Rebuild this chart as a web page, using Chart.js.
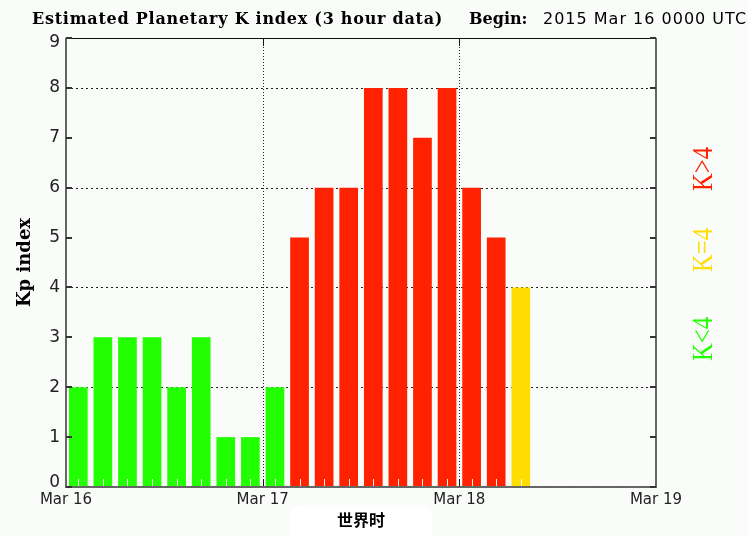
<!DOCTYPE html>
<html><head><meta charset="utf-8">
<script src="https://cdn.jsdelivr.net/npm/chart.js@4/dist/chart.umd.min.js"></script>
<style>html,body{margin:0;padding:0;background:#fafcfa;} #wrap{width:748px;height:536px;}</style>
</head><body><div id="wrap"><canvas id="c" width="748" height="536"></canvas></div>
<script>
// ---- data ----
const kpValues = [2, 3, 3, 3, 2, 3, 1, 1, 2, 5, 6, 6, 8, 8, 7, 8, 6, 5, 4];
const dayLabels = ['Mar 16', 'Mar 17', 'Mar 18', 'Mar 19'];
const slotsPerDay = 8;
const totalSlots = 24;
const yTickValues = [0, 1, 2, 3, 4, 5, 6, 7, 8, 9];
const gridValues = [2, 4, 6, 8];
const titleText = 'Estimated Planetary K index (3 hour data)';
const beginLabel = 'Begin:';
const beginText = '2015 Mar 16 0000 UTC';
const yTitle = 'Kp index';
const xTitle = '世界时';
const legendLabels = ['K>4', 'K=4', 'K<4'];
const legendColors = ['#ff2200', '#ffdd00', '#22ff00'];

function colorFor(v) { return v > 4 ? legendColors[0] : (v === 4 ? legendColors[1] : legendColors[2]); }
const points = kpValues.map((v, i) => ({x: i + 0.5, y: v}));

const decor = {
  id: 'decor',
  beforeDraw(chart) {
    const ctx = chart.ctx, a = chart.chartArea;
    ctx.save();
    ctx.fillStyle = '#fafcfa';
    ctx.fillRect(0, 0, chart.width, chart.height);
    const cx = (a.left + a.right) / 2;
    ctx.fillStyle = '#ffffff';
    ctx.beginPath();
    ctx.roundRect(cx - 71, 505, 142, 40, 10);
    ctx.fill();
    ctx.restore();
  },
  beforeDatasetsDraw(chart) {
    const ctx = chart.ctx, a = chart.chartArea;
    const xs = chart.scales.x, ys = chart.scales.y;
    ctx.save();
    ctx.strokeStyle = '#222';
    ctx.lineWidth = 1;
    ctx.setLineDash([2, 3]);
    gridValues.forEach(v => {
      const y = Math.round(ys.getPixelForValue(v)) + 0.5;
      ctx.beginPath(); ctx.moveTo(a.left, y); ctx.lineTo(a.right, y); ctx.stroke();
    });
    ctx.setLineDash([1, 2]);
    for (let d = 1; d < dayLabels.length - 1; d++) {
      const x = Math.round(xs.getPixelForValue(d * slotsPerDay)) + 0.5;
      ctx.beginPath(); ctx.moveTo(x, a.top); ctx.lineTo(x, a.bottom); ctx.stroke();
    }
    ctx.restore();
  },
  afterDatasetsDraw(chart) {
    const ctx = chart.ctx, a = chart.chartArea;
    const xs = chart.scales.x, ys = chart.scales.y;
    ctx.save();
    ctx.strokeStyle = 'rgba(255,255,255,0.9)';
    ctx.lineWidth = 1;
    for (let i = 0; i < totalSlots; i++) {
      const x = Math.round(xs.getPixelForValue(i + 0.5)) + 0.5;
      ctx.beginPath(); ctx.moveTo(x, a.bottom - 8); ctx.lineTo(x, a.bottom); ctx.stroke();
    }
    ctx.strokeStyle = '#111';
    for (let d = 1; d < dayLabels.length - 1; d++) {
      const x = Math.round(xs.getPixelForValue(d * slotsPerDay)) + 0.5;
      ctx.beginPath(); ctx.moveTo(x, a.top); ctx.lineTo(x, a.top + 8); ctx.stroke();
      ctx.beginPath(); ctx.moveTo(x, a.bottom - 8); ctx.lineTo(x, a.bottom); ctx.stroke();
    }
    ctx.strokeStyle = '#111';
    ctx.beginPath(); ctx.moveTo(a.left, a.top + 0.5); ctx.lineTo(a.right, a.top + 0.5); ctx.stroke();
    ctx.strokeStyle = '#666';
    ctx.lineWidth = 2;
    ctx.beginPath();
    ctx.moveTo(a.left, a.top); ctx.lineTo(a.left, a.bottom); ctx.lineTo(a.right, a.bottom); ctx.lineTo(a.right, a.top);
    ctx.stroke();
    ctx.strokeStyle = '#333';
    yTickValues.forEach(v => {
      const y = Math.round(ys.getPixelForValue(v));
      ctx.beginPath(); ctx.moveTo(a.left, y); ctx.lineTo(a.left + 6, y); ctx.stroke();
      ctx.beginPath(); ctx.moveTo(a.right, y); ctx.lineTo(a.right - 6, y); ctx.stroke();
    });
    ctx.restore();
  },
  afterDraw(chart) {
    const ctx = chart.ctx, a = chart.chartArea, ys = chart.scales.y;
    ctx.save();
    ctx.fillStyle = '#222';
    ctx.font = '17px "DejaVu Sans"';
    ctx.textAlign = 'right';
    ctx.textBaseline = 'middle';
    yTickValues.forEach(v => {
      let y = ys.getPixelForValue(v);
      y = Math.min(Math.max(y, a.top + 5), a.bottom - 4);
      ctx.fillText(String(v), a.left - 6, y);
    });
    ctx.textAlign = 'left';
    ctx.textBaseline = 'alphabetic';
    ctx.fillStyle = '#000';
    ctx.font = 'bold 16px "DejaVu Serif"';
    ctx.letterSpacing = '0.75px';
    ctx.fillText(titleText, 32, 24);
    ctx.letterSpacing = '0px';
    ctx.fillText(beginLabel, 469, 24);
    ctx.font = '16px "DejaVu Sans"';
    ctx.letterSpacing = '1px';
    ctx.fillText(beginText, 543, 24);
    ctx.letterSpacing = '0px';
    const centers = [169, 250, 339];
    ctx.font = '29px "Liberation Serif"';
    ctx.textAlign = 'center';
    ctx.textBaseline = 'middle';
    legendLabels.forEach((t, i) => {
      ctx.save();
      ctx.translate(703, centers[i]);
      ctx.rotate(-Math.PI / 2);
      ctx.scale(0.85, 1);
      ctx.fillStyle = legendColors[i];
      ctx.fillText(t, 0, 1);
      ctx.restore();
    });
    ctx.restore();
  }
};

new Chart(document.getElementById('c'), {
  type: 'bar',
  data: {
    datasets: [{
      data: points,
      backgroundColor: kpValues.map(colorFor),
      borderWidth: 0,
      barPercentage: 0.76,
      categoryPercentage: 1.0
    }]
  },
  options: {
    responsive: false,
    devicePixelRatio: 1,
    animation: false,
    layout: {padding: {top: 38, right: 92, left: 0, bottom: 0}},
    plugins: {legend: {display: false}, tooltip: {enabled: false}, title: {display: false}},
    scales: {
      x: {
        type: 'linear', min: 0, max: totalSlots, offset: false,
        grid: {display: false, drawTicks: false},
        border: {display: false},
        afterFit(s) { s.height = 49; },
        ticks: {
          stepSize: slotsPerDay, autoSkip: false, maxRotation: 0, padding: 4,
          color: '#222', font: {family: 'DejaVu Sans', size: 15},
          callback: v => dayLabels[v / slotsPerDay] || ''
        },
        title: {display: true, text: xTitle, color: '#000',
          font: {family: 'Noto Sans CJK SC', size: 16, weight: 'bold'}, padding: {top: 0, bottom: 6}}
      },
      y: {
        min: 0, max: 9,
        grid: {display: false, drawTicks: false},
        border: {display: false},
        afterFit(s) { s.width = 66; },
        ticks: {display: false, stepSize: 1},
        title: {display: true, text: yTitle, color: '#000',
          font: {family: 'DejaVu Serif', size: 18, weight: 'bold'}, padding: {top: 15, bottom: 0}}
      }
    }
  },
  plugins: [decor]
});
</script>
</body></html>
